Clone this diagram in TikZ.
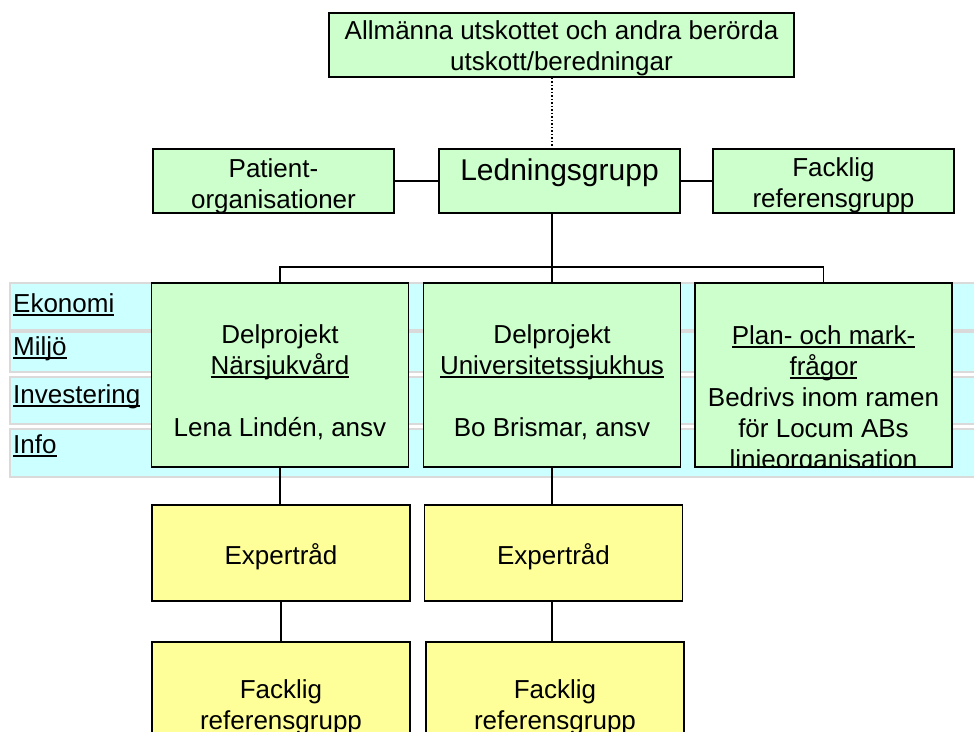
\documentclass[tikz,border=0pt]{standalone}
\usepackage{fontspec}
\setmainfont{Liberation Sans}
\definecolor{boxgreen}{HTML}{CCFFCC}
\definecolor{boxyellow}{HTML}{FFFF99}
\definecolor{bandcyan}{HTML}{CCFFFF}
\definecolor{bandgray}{HTML}{DADADA}
\newcommand{\undl}[1]{\setbox0\hbox{#1}\rlap{\rule[-3.5pt]{\wd0}{1.5pt}}\box0}
\begin{document}
\begin{tikzpicture}[
        x=1pt, y=-1pt,
        box/.style={draw, line width=1.5pt, inner sep=0pt, minimum width=241pt, minimum height=64pt},
        greenbox/.style={box, fill=boxgreen},
        dpbox/.style={greenbox, minimum width=257pt, minimum height=184pt},
        yellowbox/.style={box, fill=boxyellow, minimum width=258pt, minimum height=96pt},
        band/.style={draw=bandgray, fill=bandcyan, line width=1.5pt},
        txt/.style={inner sep=0pt, align=center, font=\fontsize{26}{31}\selectfont},
        link/.style={line width=1.5pt},
    ]
        \useasboundingbox (0,0) rectangle (974,731);
        \clip (0,0) rectangle (974,731);

        \foreach \i/\ytop/\ybot/\ybase/\name in {1/283/330/312/Ekonomi, 2/332/372/355/Miljö,
                3/377/424/403/Investering, 4/429/477/453/Info} {
            \draw[band] (10,\ytop) rectangle (990,\ybot);
            \node[txt, anchor=base west] (band\i) at (13,\ybase) {\undl{\name}};
        }

        \node[greenbox, minimum width=465pt] (top) at (561.5,45) {};
        \node[txt, anchor=north] (toptext) at (561.5,20)
            {Allmänna utskottet och andra berörda\\utskott/beredningar};

        \node[greenbox] (patient) at (273.5,181) {};
        \node[txt, anchor=north] (patienttext) at (273.5,158) {Patient-\\organisationer};
        \node[greenbox] (ledning) at (559.5,181) {};
        \node[txt, font=\fontsize{30}{35}\selectfont, anchor=base] (ledningtext)
            at (559.5,180) {Ledningsgrupp};
        \node[greenbox] (facklig) at (833.5,181) {};
        \node[txt, anchor=north] (fackligtext) at (833.5,157) {Facklig\\referensgrupp};

        \node[dpbox] (dp1) at (280,375) {};
        \node[txt, anchor=north] (dp1text) at (280,324)
            {Delprojekt\\\undl{Närsjukvård}\\[31pt]Lena Lindén, ansv};
        \node[dpbox] (dp2) at (552,375) {};
        \node[txt, anchor=north] (dp2text) at (552,324)
            {Delprojekt\\\undl{Universitetssjukhus}\\[31pt]Bo Brismar, ansv};
        \node[dpbox] (dp3) at (823.5,375) {};
        \begin{scope}
            \clip ([yshift=0.75pt]dp3.south west) rectangle (dp3.north east);
            \node[txt, anchor=north] (dp3text) at (823.5,325)
                {\undl{Plan- och mark-}\\\undl{frågor}\\Bedrivs inom ramen\\för Locum ABs\\linjeorganisation};
        \end{scope}

        \node[yellowbox] (exp1) at (281,553) {};
        \node[txt, anchor=base] (exp1text) at (281,564) {Expertråd};
        \node[yellowbox] (exp2) at (553.5,553) {};
        \node[txt, anchor=base] (exp2text) at (553.5,564) {Expertråd};
        \node[yellowbox] (fack1) at (281,690) {};
        \node[txt, anchor=north] (fack1text) at (281,679) {Facklig\\referensgrupp};
        \node[yellowbox] (fack2) at (555,690) {};
        \node[txt, anchor=north] (fack2text) at (555,679) {Facklig\\referensgrupp};

        \coordinate (branch) at (552,267);
        \draw[dotted, line width=1.5pt] (top.south -| branch) -- (ledning.north -| branch);
        \draw[link] (patient) -- (ledning);
        \draw[link] (ledning) -- (facklig);
        \draw[link] (ledning.south -| branch) -- (branch);
        \draw[link] (dp1.north) |- (branch) -| (dp3.north);
        \draw[link] (branch) -- (dp2.north);
        \draw[link] (dp1.south) -- (dp1.south |- exp1.north);
        \draw[link] (dp2.south) -- (dp2.south |- exp2.north);
        \draw[link] (exp1.south) -- (exp1.south |- fack1.north);
        \draw[link] (exp2.south -| dp2) -- (fack2.north -| dp2);
    \end{tikzpicture}
\end{document}
